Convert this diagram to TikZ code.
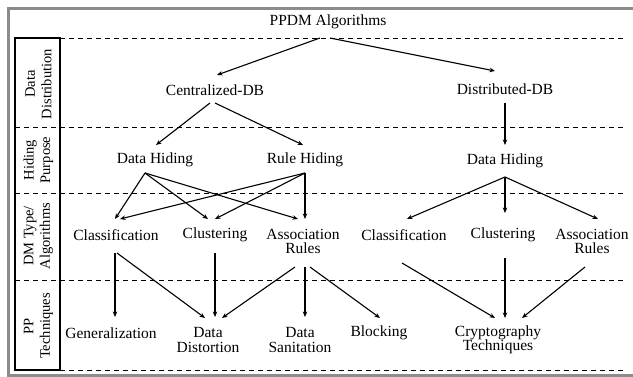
\documentclass[tikz,border=0pt]{standalone}
\usepackage{fontspec}
\setmainfont{Liberation Serif}
\usetikzlibrary{arrows.meta}
\begin{document}
\begin{tikzpicture}[x=1pt,y=-1pt,
  lbl/.style={inner sep=0pt,align=center,font=\fontsize{15.5}{14.5}\selectfont},
  side/.style={inner sep=0pt,align=center,rotate=90,font=\fontsize{14.5}{16.5}\selectfont},
  arr/.style={line width=1.1pt,-{Stealth[length=5.5pt,width=4.5pt]}},
  sep/.style={line width=0.9pt,dash pattern=on 5pt off 4pt},
  frame/.style={line width=3pt,draw=black!45}]
\useasboundingbox (0,0) rectangle (633,377);
% outer gray frame
\draw[frame] (640,8.5) -- (8,8.5) -- (8,375.5) -- (640,375.5);
% side label column
\draw[line width=1.1pt] (15,38) rectangle (60,370);
\draw[sep] (60,38) -- (623,38);
\draw[sep] (15,127) -- (623,127);
\draw[sep] (15,193) -- (623,193);
\draw[sep] (15,280) -- (623,280);
\draw[sep] (60,370) -- (623,370);
\node[side] (s1) at (38.5,84) {Data\\Distribution};
\node[side] (s2) at (38.5,160) {Hiding\\Purpose};
\node[side] (s3) at (38.5,236) {DM Type/\\Algorithms};
\node[side] (s4) at (38.5,326) {PP\\Techniques};
% nodes
\node[lbl] (ppdm) at (328,22) {PPDM Algorithms};
\node[lbl] (cdb) at (215,90) {Centralized-DB};
\node[lbl] (ddb) at (505,89) {Distributed-DB};
\node[lbl] (dhl) at (155,160) {Data Hiding};
\node[lbl] (rh) at (305,160) {Rule Hiding};
\node[lbl] (dhr) at (505,161) {Data Hiding};
\node[lbl] (cll) at (116,235) {Classification};
\node[lbl] (cul) at (215,235) {Clustering};
\node[lbl] (arl) at (303,241.5) {Association\\Rules};
\node[lbl] (clr) at (404,235) {Classification};
\node[lbl] (cur) at (503,235) {Clustering};
\node[lbl] (arr) at (592,241.5) {Association\\Rules};
\node[lbl] (gen) at (111,333) {Generalization};
\node[lbl] (dd) at (208,340) {Data\\Distortion};
\node[lbl] (ds) at (300,340) {Data\\Sanitation};
\node[lbl] (blk) at (379,333) {Blocking};
\node[lbl] (cry) at (498,340) {Cryptography\\Techniques};
% connectors
\draw[arr] ([shift={(-8,16)}]ppdm.center) -- ([shift={(2,-15)}]cdb.center);
\draw[arr] ([shift={(2,16)}]ppdm.center) -- ([shift={(-10,-18)}]ddb.center);
\draw[arr] ([shift={(-5,13)}]cdb.center) -- ([shift={(1,-15)}]dhl.center);
\draw[arr] ([shift={(0,13)}]cdb.center) -- ([shift={(-2,-15)}]rh.center);
\draw[arr] ([shift={(0,14)}]ddb.center) -- ([shift={(0,-16)}]dhr.center);
\draw[arr] ([shift={(-10,13)}]dhl.center) -- ([shift={(-1,-16)}]cll.center);
\draw[arr] ([shift={(-10,13)}]dhl.center) -- ([shift={(-7,-16)}]cul.center);
\draw[arr] ([shift={(-10,13)}]dhl.center) -- ([shift={(-5,-22.5)}]arl.center);
\draw[arr] ([shift={(0,13)}]rh.center) -- ([shift={(4,-16)}]cll.center);
\draw[arr] ([shift={(0,13)}]rh.center) -- ([shift={(0,-16)}]cul.center);
\draw[arr] ([shift={(0,13)}]rh.center) -- ([shift={(2,-22.5)}]arl.center);
\draw[arr] ([shift={(0,16)}]dhr.center) -- ([shift={(3,-16)}]clr.center);
\draw[arr] ([shift={(0,16)}]dhr.center) -- ([shift={(2,-22)}]cur.center);
\draw[arr] ([shift={(0,16)}]dhr.center) -- ([shift={(6,-22.5)}]arr.center);
\draw[arr] ([shift={(-1,18)}]cll.center) -- ([shift={(4,-16)}]gen.center);
\draw[arr] ([shift={(1,18)}]cll.center) -- ([shift={(-3,-22)}]dd.center);
\draw[arr] ([shift={(0,18)}]cul.center) -- ([shift={(7,-23)}]dd.center);
\draw[arr] ([shift={(-8,25.5)}]arl.center) -- ([shift={(14,-22)}]dd.center);
\draw[arr] ([shift={(2,25.5)}]arl.center) -- ([shift={(5,-23)}]ds.center);
\draw[arr] ([shift={(7,25.5)}]arl.center) -- ([shift={(1,-15)}]blk.center);
\draw[arr] ([shift={(-2,28)}]clr.center) -- ([shift={(-3,-22)}]cry.center);
\draw[arr] ([shift={(2,23)}]cur.center) -- ([shift={(7,-22)}]cry.center);
\draw[arr] ([shift={(-7,25.5)}]arr.center) -- ([shift={(24,-22)}]cry.center);
\end{tikzpicture}
\end{document}
